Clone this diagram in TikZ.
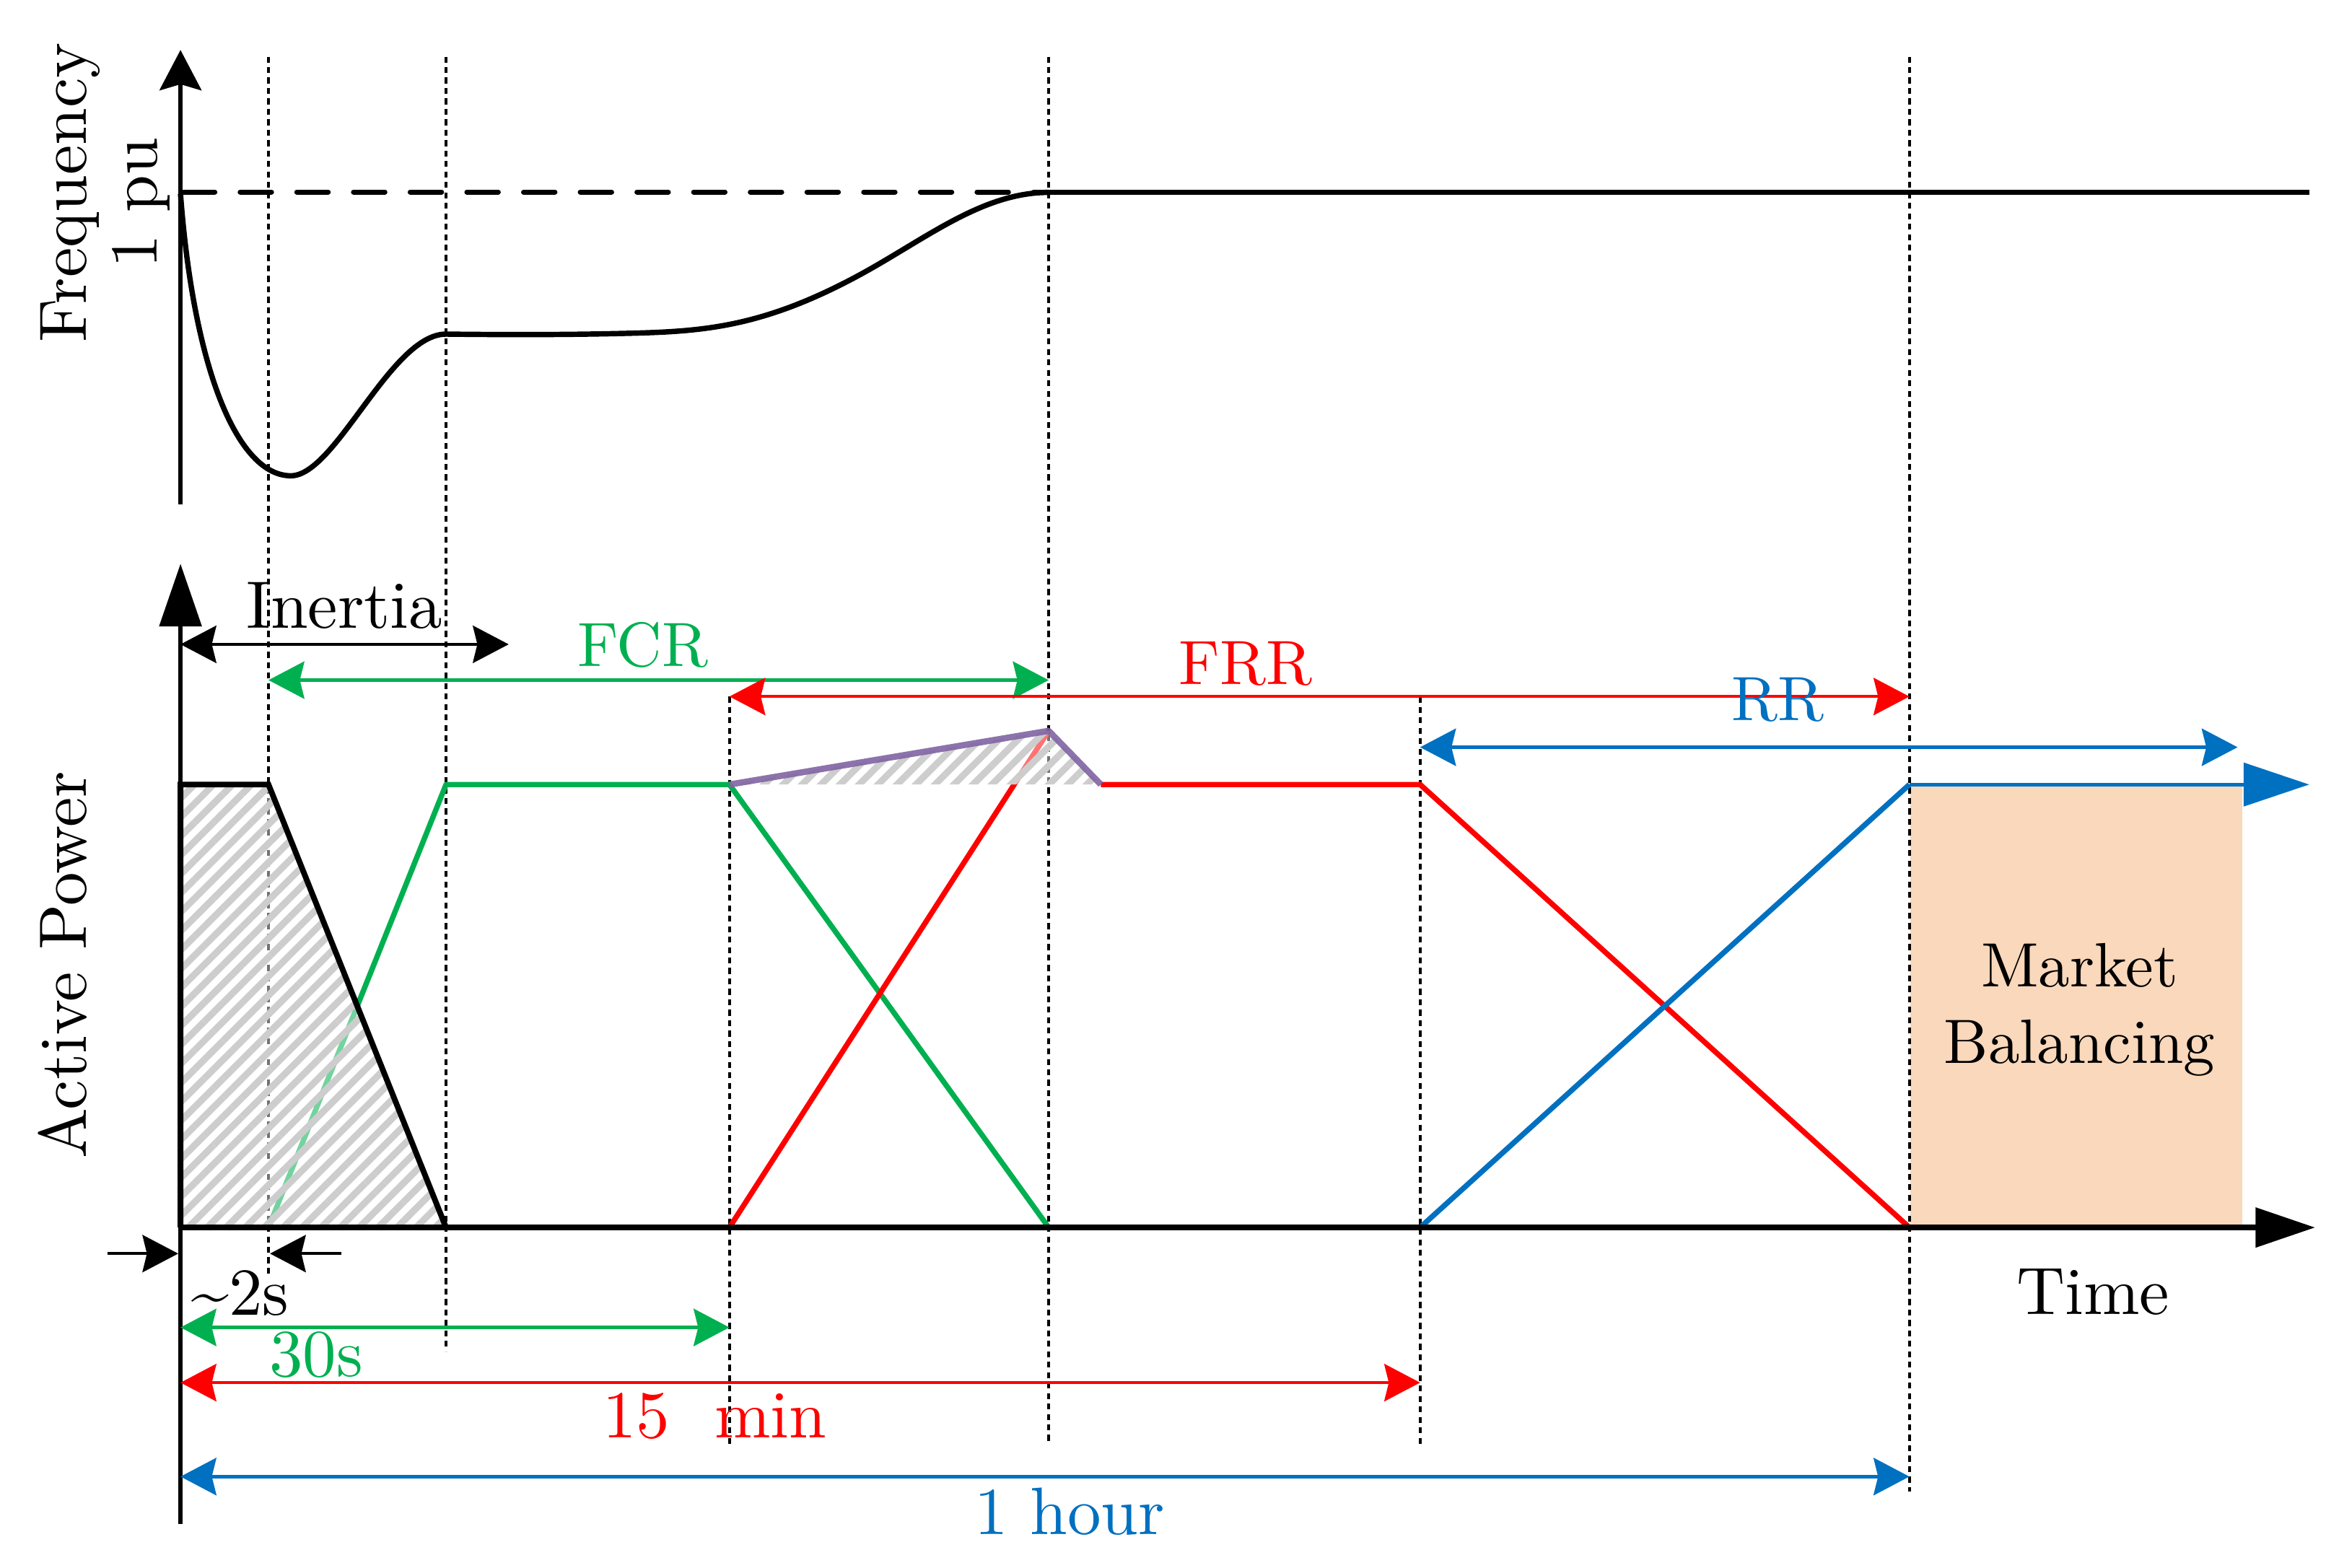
\documentclass[tikz,border=0pt]{standalone}
\usepackage{fontspec}
\setmainfont{lmroman10-regular.otf}
\usetikzlibrary{arrows.meta,patterns.meta}
\definecolor{cG}{HTML}{00B050}
\definecolor{cR}{HTML}{FF0000}
\definecolor{cB}{HTML}{0070C0}
\definecolor{cP}{HTML}{8064A2}
\definecolor{cM}{RGB}{249,216,187}
\definecolor{cH}{RGB}{205,205,205}
\tikzset{
  hd/.tip={Stealth[length=24pt,width=25pt,inset=3pt]},
  lbl/.style={font=\fontsize{45}{51}\selectfont, inner sep=0pt, anchor=base},
  caps/.style={font=\fontsize{42}{51}\selectfont},
  vline/.style={line width=2pt, dash pattern=on 4pt off 3pt},
  curve/.style={line width=3.6pt, line join=round},
  dimarr/.style={line width=2.3pt, hd-hd},
  thinarr/.style={line width=2.1pt, hd-hd},
  hatch/.style={pattern={Lines[angle=45,distance=9pt,line width=4.5pt]}, pattern color=cH},
}
\begin{document}
\begin{tikzpicture}[x=1pt,y=-1pt]
\useasboundingbox (0,0) rectangle (1568,1051);

% market balancing box
\fill[cM] (1280.5,526) rectangle (1503,823);

% vertical guide lines
\draw[vline] (180,38) -- (180,855);
\draw[vline] (299,38) -- (299,906);
\draw[vline] (489,467) -- (489,968);
\draw[vline] (703,38) -- (703,968);
\draw[vline] (952,467) -- (952,968);
\draw[vline] (1280,38) -- (1280,1000);

% reserve curves
\draw[curve, cG] (180,823) -- (299,526) -- (489,526) -- (703,823);
\draw[curve, cR] (489,823) -- (703,490);
\draw[curve, cR] (738,526) -- (952,526) -- (1280,823);
\draw[curve, cB] (952,823) -- (1280,526);

% hatched areas
\fill[white, opacity=0.45] (121,823) -- (121,526) -- (180,526) -- (299,823) -- cycle;
\fill[hatch] (121,823) -- (121,526) -- (180,526) -- (299,823) -- cycle;
\fill[white, opacity=0.45] (489,526) -- (703,490) -- (738,526) -- cycle;
\fill[hatch] (489,526) -- (703,490) -- (738,526) -- cycle;
\draw[line width=3.8pt, line join=miter] (121,823) -- (121,526) -- (180,526) -- (299,823);
\draw[cP, draw opacity=0.9, line width=4.2pt, line join=round] (489,526) -- (703,490) -- (738,526);

% blue continuation
\draw[cB, line width=2.2pt, -{Triangle[length=44pt,width=29pt]}] (1280,526) -- (1548,526);

% axes
\draw[line width=3pt, -{Stealth[length=27pt,width=28pt,inset=4pt]}] (121,338) -- (121,33.5);
\draw[line width=3pt, -{Triangle[length=42pt,width=28pt]}] (121,1022) -- (121,378);
\draw[line width=4pt, -{Triangle[length=40pt,width=26pt]}] (121,823) -- (1552,823);

% frequency panel
\draw[line width=3.4pt, dash pattern=on 21pt off 17pt, line cap=round] (123,128.7) -- (703,128.7);
\draw[line width=3.4pt] (703,128.7) -- (1548,128.7);
\draw[curve] (121,130) .. controls (130,250) and (160,319) .. (195,319)
  .. controls (225,319) and (262,224) .. (299,224)
  .. controls (340,224.5) and (380,224.5) .. (420,223.5)
  .. controls (470,222.3) and (510,220) .. (575,185)
  .. controls (620,160.7) and (658,129) .. (703,129);

% range arrows
\draw[thinarr] (121,432) -- (341,432);
\draw[thinarr, cG] (180,456) -- (703,456);
\draw[thinarr, cR] (489,467) -- (1280,467);
\draw[thinarr, cB] (952,501) -- (1500,501);

% time arrows
\draw[line width=1.8pt, -hd] (72,840.5) -- (119.5,840.5);
\draw[line width=1.8pt, -hd] (229,840.5) -- (181,840.5);
\draw[dimarr, cG] (121,890) -- (489,890);
\draw[dimarr, cR] (121,927) -- (952,927);
\draw[dimarr, cB] (121,990) -- (1280,990);

% labels
\node[lbl, rotate=90] (freq) at (58,129) {Frequency};
\node[lbl, rotate=90] (pu) at (105,136) {1 pu};
\node[lbl, rotate=90] (ap) at (58,647) {Active Power};
\node[lbl] (inertia) at (231,421) {Inertia};
\node[lbl, caps, cG] (fcr) at (431,447) {FCR};
\node[lbl, caps, cR] (frr) at (835,459) {FRR};
\node[lbl, caps, cB] (rr) at (1192,483) {RR};
\node[lbl, caps, anchor=center, align=center] (mkt) at (1394,677) {Market\\Balancing};
\node[lbl] (time) at (1403,881) {Time};
\node[lbl] (t2) at (161,881.5) {\textasciitilde2s};
\node[lbl, cG] (t30) at (212,923) {30s};
\node[lbl, cR] (t15) at (479,964) {15\ \ min};
\node[lbl, cB] (t1h) at (717,1029) {1 hour};
\end{tikzpicture}
\end{document}
